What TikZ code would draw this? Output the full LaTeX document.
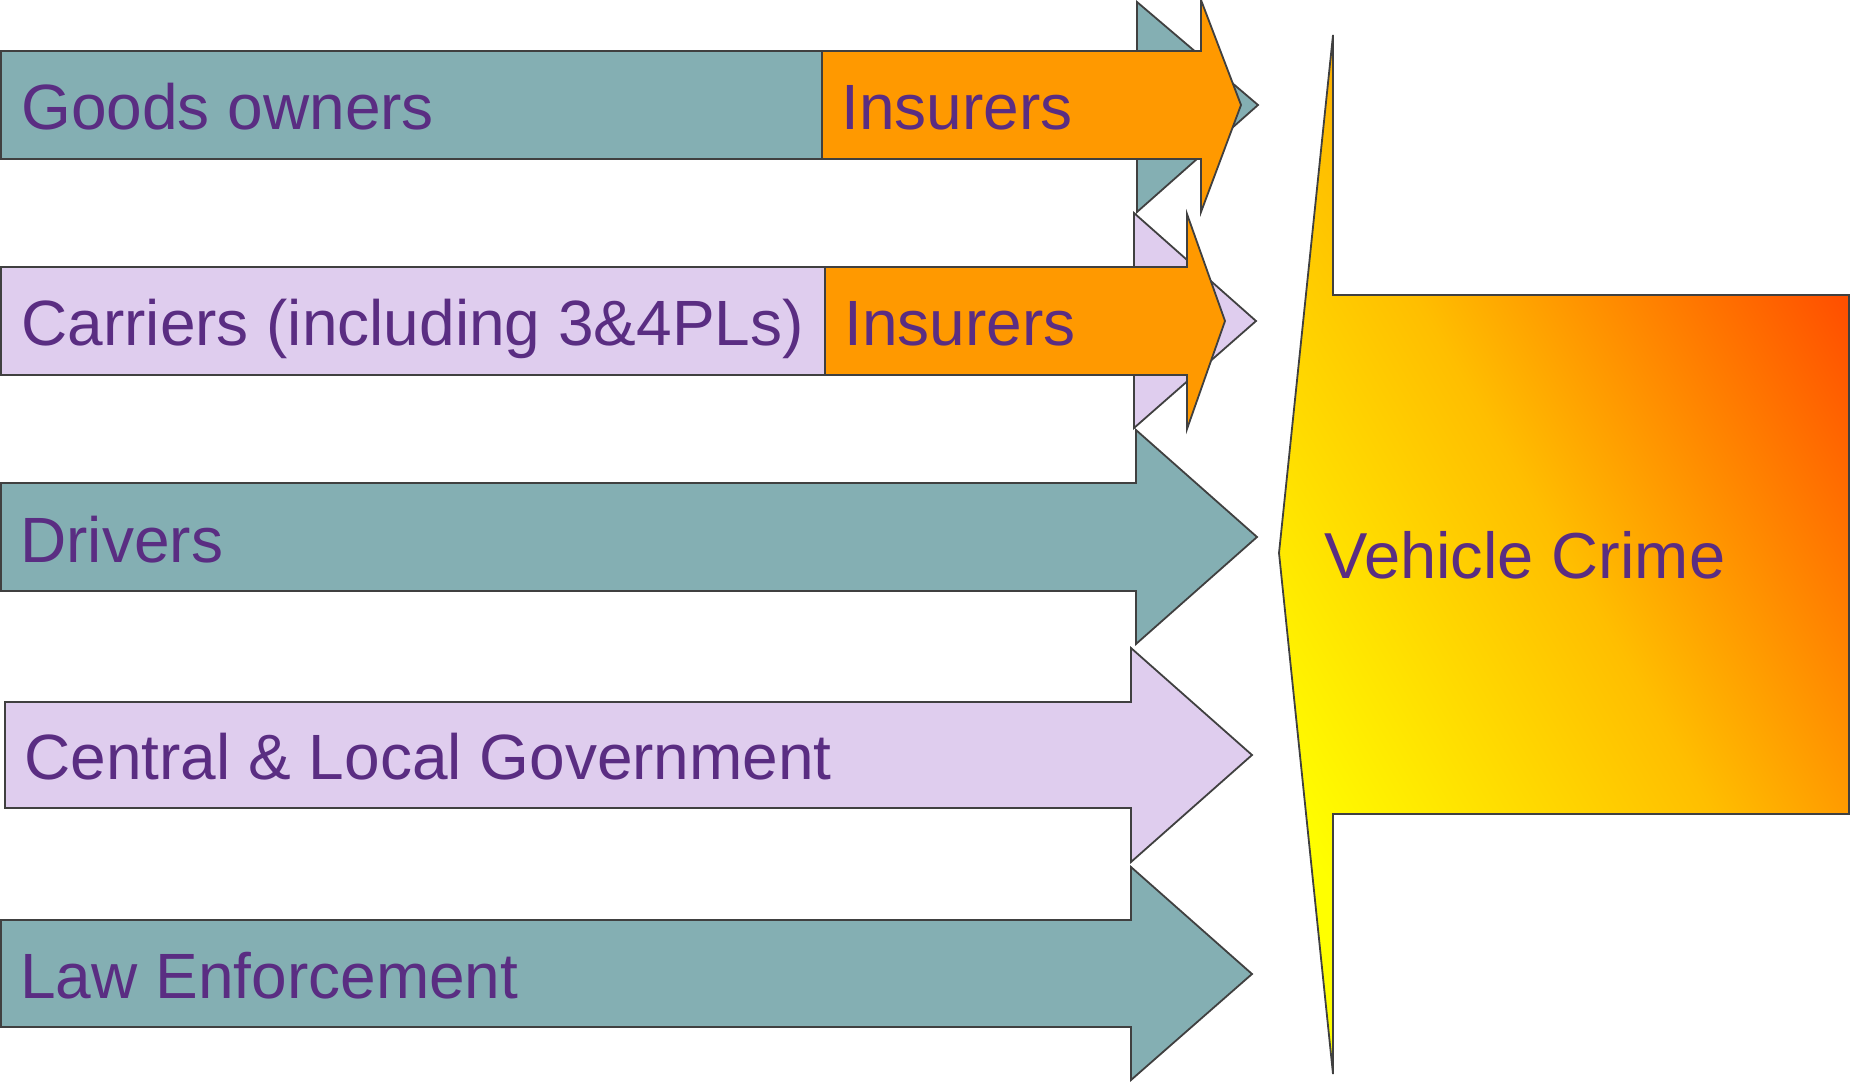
\documentclass[tikz,border=0pt]{standalone}
\usepackage{fontspec}
\setmainfont{Liberation Sans}
\definecolor{tealbar}{RGB}{132,175,179}
\definecolor{lilacbar}{RGB}{223,205,238}
\definecolor{insorange}{RGB}{255,153,0}
\definecolor{labelpurple}{RGB}{90,45,130}
\definecolor{edgegray}{RGB}{64,64,64}
\definecolor{crimeyellow}{RGB}{255,255,0}
\definecolor{crimeorange}{RGB}{255,190,0}
\definecolor{crimered}{RGB}{255,80,0}
\pgfdeclarehorizontalshading{crimegrad}{100bp}{color(0bp)=(crimeyellow); color(25bp)=(crimeyellow); color(50bp)=(crimeorange); color(75bp)=(crimered); color(100bp)=(crimered)}

\begin{document}
\begin{tikzpicture}[x=0.5pt,y=0.5pt]
\tikzstyle{every node}+=[inner sep=0pt, anchor=base west, text=labelpurple, font=\fontsize{32}{38}\selectfont]
\tikzstyle{arrowshape}=[draw=edgegray, line width=0.9pt]
\useasboundingbox (0,0) rectangle (1851,-1081);
% goods owners + insurers
\draw [arrowshape, fill=tealbar] (1,-51) -- (1137,-51) -- (1137,-2) -- (1258,-105) -- (1137,-212) -- (1137,-159) -- (1,-159) -- cycle;
\draw [arrowshape, fill=insorange] (822,-51) -- (1201,-51) -- (1201,0) -- (1241,-105) -- (1201,-212) -- (1201,-159) -- (822,-159) -- cycle;
\draw (21,-129) node (goods) {Goods owners};
\draw (841,-129) node (insgoods) {Insurers};
% carriers + insurers
\draw [arrowshape, fill=lilacbar] (1,-267) -- (1134,-267) -- (1134,-213) -- (1256,-321) -- (1134,-428) -- (1134,-375) -- (1,-375) -- cycle;
\draw [arrowshape, fill=insorange] (825,-267) -- (1187,-267) -- (1187,-214) -- (1225,-321) -- (1187,-429) -- (1187,-375) -- (825,-375) -- cycle;
\draw (21,-345) node (carriers) {Carriers (including 3\&4PLs)};
\draw (844,-345) node (inscarriers) {Insurers};
% drivers
\draw [arrowshape, fill=tealbar] (1,-483) -- (1136,-483) -- (1136,-430) -- (1257,-537) -- (1136,-644) -- (1136,-591) -- (1,-591) -- cycle;
\draw (20,-562) node (drivers) {Drivers};
% government
\draw [arrowshape, fill=lilacbar] (5,-702) -- (1131,-702) -- (1131,-648) -- (1252,-755) -- (1131,-862) -- (1131,-808) -- (5,-808) -- cycle;
\draw (24,-779) node (govt) {Central \& Local Government};
% law enforcement
\draw [arrowshape, fill=tealbar] (1,-920) -- (1131,-920) -- (1131,-867) -- (1252,-974) -- (1131,-1080) -- (1131,-1027) -- (1,-1027) -- cycle;
\draw (20,-998) node (law) {Law Enforcement};
% vehicle crime
\shadedraw [arrowshape, shading=crimegrad, shading angle=30] (1333,-35) -- (1333,-295) -- (1849,-295) -- (1849,-814) -- (1333,-814) -- (1333,-1074) -- (1279,-553) -- cycle;
\draw (1324,-578) node [font=\fontsize{32.5}{38}\selectfont] (crime) {Vehicle Crime};
\end{tikzpicture}
\end{document}
